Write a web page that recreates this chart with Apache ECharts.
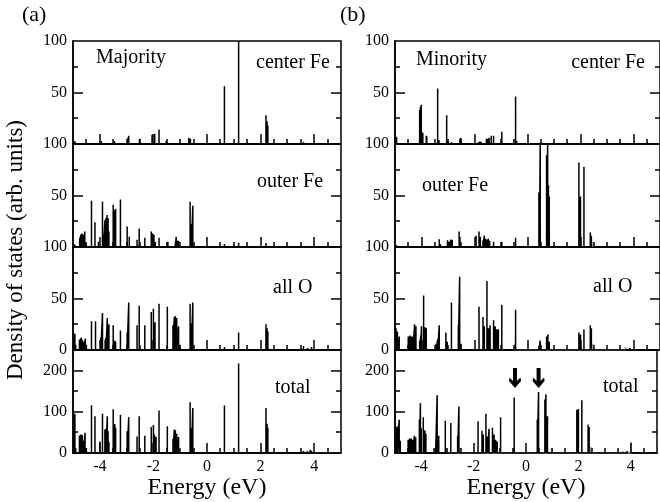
<!DOCTYPE html>
<html><head><meta charset="utf-8">
<script src="https://cdn.jsdelivr.net/npm/echarts@6/dist/echarts.min.js"></script>
<style>html,body{margin:0;padding:0;background:#fff}#c{width:660px;height:502px}</style>
</head><body><div id="c"></div>
<script>
const FONT = '"Liberation Serif", "Times New Roman", serif';
const energyTicks = [-4, -2, 0, 2, 4];
const energyMinorTicks = [-4.5,-4,-3.5,-3,-2.5,-2,-1.5,-1,-0.5,0,0.5,1,1.5,2,2.5,3,3.5,4,4.5];
const dosTicksSmall = [25, 50, 75];
const dosMajorSmall = [50];
const dosTicksTotal = [50, 100, 150, 200];
const dosMajorTotal = [100, 200];

// Majority spin: [energy (eV), DOS]
const majCenterFe = [[-4.93,3],[-3.95,3],[-3.45,3],[-2.95,6],[-2.92,8],[-2.52,5],[-2.05,9],[-1.95,10],[-1.79,14],[-1.52,3],[-0.68,6],[-0.62,5],[0.65,56],[1.18,100],[2.2,28],[2.24,22],[2.27,18],[3.6,2]];
const majOuterFe = [[-4.97,3],[-4.93,2],[-4.75,9],[-4.71,12],[-4.67,13],[-4.63,12],[-4.56,15],[-4.52,4],[-4.31,45],[-4.18,24],[-4.05,5],[-3.9,44],[-3.86,12],[-3.81,26],[-3.77,28],[-3.73,31],[-3.69,28],[-3.66,15],[-3.5,41],[-3.45,36],[-3.41,37],[-3.23,46],[-2.98,20],[-2.9,10],[-2.61,7],[-2.53,18],[-2.32,9],[-2.08,15],[-2.03,13],[-1.98,12],[-1.93,5],[-1.79,9],[-1.46,5],[-1.18,5],[-1.15,10],[-1.11,6],[-1.06,6],[-0.63,44],[-0.6,20],[-0.58,22],[-0.53,40],[0.65,3],[1.18,4],[2.2,4]];
const majAllO = [[-4.97,6],[-4.93,16],[-4.9,5],[-4.76,10],[-4.72,11],[-4.69,12],[-4.65,10],[-4.6,8],[-4.54,11],[-4.5,5],[-4.31,28],[-4.16,28],[-3.96,12],[-3.9,36],[-3.8,10],[-3.77,12],[-3.72,31],[-3.69,15],[-3.66,25],[-3.5,24],[-3.44,9],[-3.41,8],[-3.23,19],[-2.98,17],[-2.92,46],[-2.61,24],[-2.53,43],[-2.32,24],[-2.08,37],[-2.0,40],[-1.94,27],[-1.79,45],[-1.48,42],[-1.27,24],[-1.22,32],[-1.18,33],[-1.13,31],[-1.06,23],[-1.02,5],[-0.63,45],[-0.6,24],[-0.58,26],[-0.53,46],[0.65,3],[1.18,17],[2.2,25],[2.24,21],[2.27,18],[3.6,4],[3.75,2],[3.9,3]];
const majTotal = [[-4.97,32],[-4.93,95],[-4.9,12],[-4.76,42],[-4.72,44],[-4.69,45],[-4.65,43],[-4.6,30],[-4.55,49],[-4.5,12],[-4.31,116],[-4.18,89],[-4.0,28],[-3.9,95],[-3.81,57],[-3.77,59],[-3.72,89],[-3.69,53],[-3.66,26],[-3.5,106],[-3.44,70],[-3.41,61],[-3.23,93],[-2.98,53],[-2.92,87],[-2.61,40],[-2.53,89],[-2.32,42],[-2.08,63],[-2.0,68],[-1.96,45],[-1.9,39],[-1.79,103],[-1.48,65],[-1.27,34],[-1.22,57],[-1.18,55],[-1.13,47],[-1.06,39],[-0.63,123],[-0.6,57],[-0.58,60],[-0.53,109],[0.65,115],[1.18,217],[2.2,109],[2.24,71],[2.27,61],[3.6,5],[3.75,5],[3.85,8],[3.9,5]];

// Minority spin
const minCenterFe = [[-4.97,6],[-4.94,7],[-4.07,33],[-4.04,36],[-4.01,38],[-3.95,11],[-3.82,8],[-3.8,7],[-3.39,54],[-3.34,4],[-3.05,28],[-3.0,3],[-2.87,2],[-2.55,5],[-2.52,6],[-1.85,2],[-1.8,2],[-1.75,2],[-1.55,5],[-1.5,5],[-1.45,6],[-1.37,8],[-1.28,8],[-0.97,12],[-0.45,46],[-0.41,3]];
const minOuterFe = [[-4.95,2],[-3.33,7.5],[-3.29,3],[-3.02,6.5],[-2.96,5],[-2.89,7],[-2.84,7],[-2.58,15],[-2.55,10],[-1.94,11],[-1.83,15],[-1.78,10],[-1.68,6.5],[-1.63,11],[-1.58,8],[-1.53,7],[-1.48,8],[-1.43,6],[-1.28,5],[-0.97,5],[-0.45,9],[0.43,53],[0.45,30],[0.48,103],[0.72,89],[0.76,99],[0.79,60],[0.82,49],[1.94,82],[2.0,49],[2.13,78],[2.37,14],[2.41,11]];
const minOuterFeGrey = [[2.47,5]];
const minAllO = [[-4.96,21],[-4.91,18],[-4.84,13],[-4.5,13],[-4.44,14],[-4.38,13],[-4.32,13],[-4.26,25],[-4.21,23],[-4.07,9],[-4.03,14],[-4.0,23],[-3.92,53],[-3.86,22],[-3.82,21],[-3.45,6],[-3.39,10],[-3.33,24],[-3.08,17],[-3.03,8],[-2.87,46],[-2.61,24],[-2.56,71],[-2.51,6],[-1.83,42],[-1.68,32],[-1.63,23],[-1.53,67],[-1.47,21],[-1.41,24],[-1.28,29],[-1.22,23],[-1.16,20],[-1.1,20],[-0.97,44],[-0.45,39],[0.43,4],[0.48,9],[0.72,13],[0.77,15],[0.82,8],[1.94,17],[2.0,15],[2.13,20],[2.37,24],[2.41,21],[3.86,2]];
const minAllOGrey = [[-0.48,6],[2.47,6],[3.7,3]];
const minTotal = [[-4.96,62],[-4.91,65],[-4.84,81],[-4.8,30],[-4.5,32],[-4.44,35],[-4.38,35],[-4.32,32],[-4.26,42],[-4.21,38],[-4.07,81],[-4.03,121],[-4.0,60],[-3.92,87],[-3.86,55],[-3.82,47],[-3.45,12],[-3.39,140],[-3.33,42],[-3.08,78],[-2.87,73],[-2.61,40],[-2.56,113],[-1.83,77],[-1.68,54],[-1.63,45],[-1.53,95],[-1.47,40],[-1.41,59],[-1.28,61],[-1.22,45],[-1.16,32],[-1.1,28],[-0.97,87],[-0.45,135],[0.43,81],[0.48,148],[0.72,130],[0.76,142],[0.82,89],[1.94,105],[2.0,107],[2.13,128],[2.37,69],[2.41,63],[3.86,5]];
const minTotalGrey = [[-3.02,12],[-2.51,12],[-0.48,12],[1.0,10],[2.47,15],[3.7,5],[4.0,28]];
const arrowEnergies = [-0.42, 0.48];
const arrowLevel = 182;

const panelNames = ['center Fe', 'outer Fe', 'all O', 'total'];
const panels = [
  {col:0,row:0,data:majCenterFe,grey:[]},
  {col:0,row:1,data:majOuterFe,grey:[]},
  {col:0,row:2,data:majAllO,grey:[]},
  {col:0,row:3,data:majTotal,grey:[]},
  {col:1,row:0,data:minCenterFe,grey:[]},
  {col:1,row:1,data:minOuterFe,grey:minOuterFeGrey},
  {col:1,row:2,data:minAllO,grey:minAllOGrey},
  {col:1,row:3,data:minTotal,grey:minTotalGrey,arrows:true}
];

function spikes(arr){
  const s = arr.slice().sort((a,b)=>a[0]-b[0]);
  const out = [];
  s.forEach(([e,h])=>{ out.push([e,0],[e,h],[e,0]); });
  return out;
}
// tick descriptors: [x value, y value, isMajor, kind(0 = energy tick, 1 = DOS tick)]
function tickItems(yTicks, yMajors){
  const items = [];
  energyMinorTicks.forEach(v=>items.push([v, 0, energyTicks.includes(v)?1:0, 0]));
  yTicks.forEach(v=>items.push([0, v, yMajors.includes(v)?1:0, 1]));
  return items;
}
function renderTick(params, api){
  const cs = params.coordSys;
  const major = api.value(2), kind = api.value(3);
  const len = major ? 10 : 5;
  const style = {stroke:'#000', lineWidth:1.5};
  const p = api.coord([api.value(0), api.value(1)]);
  if (kind === 0) {
    const yb = cs.y + cs.height;
    const x = Math.round(p[0]);
    return {type:'line', shape:{x1:x, y1:yb, x2:x, y2:yb-len}, style};
  }
  const y = Math.round(p[1]);
  const xl = cs.x, xr = cs.x + cs.width;
  return {type:'group', children:[
    {type:'line', shape:{x1:xl, y1:y, x2:xl+len, y2:y}, style},
    {type:'line', shape:{x1:xr, y1:y, x2:xr-len, y2:y}, style}
  ]};
}

const txt = {color:'#000', fontFamily:FONT};
const grid=[], xAxis=[], yAxis=[], series=[];
panels.forEach((p,i)=>{
  const left = p.col===0 ? 73 : 395;
  const top = 41 + p.row*103;
  grid.push({left, top, width:268, height:103, show:true, borderColor:'#000', borderWidth:1.5});
  const bottom = p.row===3;
  const xi = xAxis.length;
  xAxis.push({gridIndex:i, type:'value', position:'bottom', min:-5, max:5, interval:0.5,
    axisLine:{show:true,onZero:false,lineStyle:{color:'#000',width:1.5}},
    axisTick:{show:false},
    axisLabel:{show:bottom, margin:6, fontSize:16, ...txt,
      formatter:v=>{const r=Math.round(v); return (Math.abs(v-r)<1e-9 && energyTicks.includes(r)) ? String(r) : '';}},
    splitLine:{show:false},
    name: bottom ? 'Energy (eV)' : '', nameLocation:'middle', nameGap:20,
    nameTextStyle:{fontSize:24, ...txt}
  });
  const ymax = p.row===3 ? 250 : 100;
  const step = p.row===3 ? 50 : 25;
  const labelled = p.row===3 ? [0,100,200] : (p.row===2 ? [0,50,100] : [50,100]);
  const yi = yAxis.length;
  yAxis.push({gridIndex:i, type:'value', position:'left', min:0, max:ymax, interval:step,
    axisLine:{show:true,onZero:false,lineStyle:{color:'#000',width:1.5}},
    axisTick:{show:false},
    axisLabel:{show:true, margin:6, fontSize:16, ...txt, showMinLabel:true, showMaxLabel:true,
      formatter:v=> labelled.includes(v) ? String(v) : ''},
    splitLine:{show:false}});
  const s = {type:'line', xAxisIndex:xi, yAxisIndex:yi, data:spikes(p.data), symbol:'none',
    lineStyle:{color:'#000',width:1.5}, itemStyle:{color:'#000'}, silent:true, z:3, clip:true};
  if (p.arrows) {
    s.markPoint = {symbol:'path://M4,0 L8,0 L8,13 L11.5,9.5 L12,13 L6,20 L0,13 L0.5,9.5 L4,13 Z',
      symbolSize:[12,20], itemStyle:{color:'#000'}, label:{show:false}, silent:true,
      data: arrowEnergies.map(e=>({coord:[e, arrowLevel]}))};
  }
  series.push(s);
  if (p.grey.length) {
    series.push({type:'line', xAxisIndex:xi, yAxisIndex:yi, data:spikes(p.grey), symbol:'none',
      lineStyle:{color:'#9a9a9a',width:1.5}, silent:true, z:2, clip:true});
  }
  const yT = p.row===3 ? dosTicksTotal : dosTicksSmall;
  const yM = p.row===3 ? dosMajorTotal : dosMajorSmall;
  series.push({type:'custom', xAxisIndex:xi, yAxisIndex:yi, clip:false, silent:true, z:5,
    dimensions:['x','y','major','kind'], encode:{x:0, y:1},
    data: tickItems(yT, yM), renderItem: renderTick});
});

const labelPos = {
  '0-0':[256,63,'left'], '0-1':[257,182,'left'], '0-2':[273,288,'left'], '0-3':[275,388,'left'],
  '1-0':[645,63,'right'], '1-1':[422,186,'left'], '1-2':[593,287,'left'], '1-3':[603,387,'left']
};
const graphic = [];
function addText(text,x,y,size,align,rot){
  graphic.push({type:'text', x, y, rotation:rot||0, z:10, silent:true,
    style:{text, fill:'#000', font:size+'px '+FONT, align:align||'left', verticalAlign:'middle'}});
}
panels.forEach(p=>{
  const lp = labelPos[p.col+'-'+p.row];
  addText(panelNames[p.row], lp[0], lp[1], 20, lp[2]);
});
addText('Majority', 96, 58, 20);
addText('Minority', 416, 60, 20);
addText('(a)', 22, 15, 22);
addText('(b)', 340, 15, 22);
addText('Density of states (arb. units)', 16, 250, 23, 'center', Math.PI/2);

const chart = echarts.init(document.getElementById('c'), null, {renderer:'canvas'});
chart.setOption({animation:false, backgroundColor:'#fff', grid, xAxis, yAxis, series, graphic});
</script></body></html>
